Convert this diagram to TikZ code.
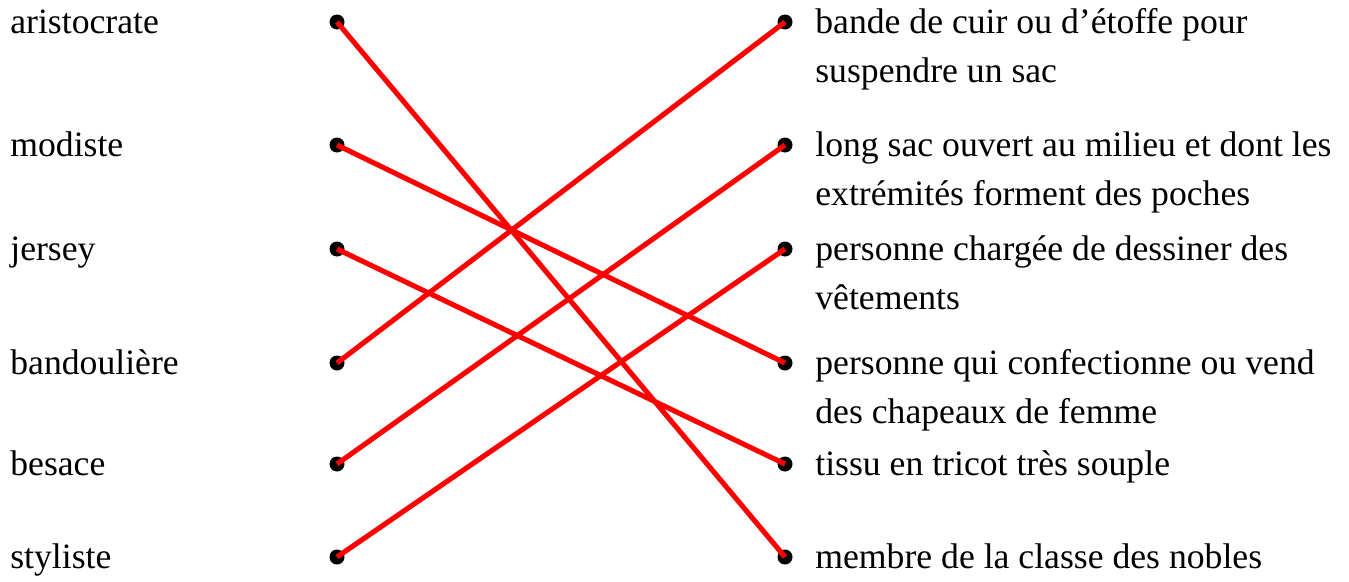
\documentclass[tikz,border=0pt]{standalone}
\usepackage{fontspec}
\setmainfont{Liberation Serif}
\usepackage{xcolor}
\usepackage{tikz}
\usetikzlibrary{positioning}
\definecolor{matchred}{RGB}{255,0,0}
\tikzset{
    dotnode/.style={
        circle,
        fill=black,
        inner sep=0pt,
        minimum size=0.3cm
    },
    wordlabel/.style={
        anchor=base west,
        inner sep=0pt,
        align=left,
        font=\fontsize{20.3}{28.4}\selectfont
    },
    twolines/.style={
        wordlabel,
        yshift=-28.4pt
    },
    matchline/.style={
        draw=matchred,
        line width=2.9pt
    }
}
\begin{document}
\begin{tikzpicture}

\useasboundingbox (0,0) rectangle (26.98,11.62);

% Left column: words
\foreach \i/\y/\word in {1/11.18/aristocrate, 2/8.72/modiste, 3/6.64/jersey,
                         4/4.36/bandoulière, 5/2.34/besace, 6/0.48/styliste} {
    \node[dotnode] (l\i) at (6.74,\y) {};
    \node[wordlabel] (w\i) at (0.2,\y-0.22) {\word};
}

% Right column: definitions
\foreach \i/\y in {1/11.18, 2/8.72, 3/6.64, 4/4.36, 5/2.34, 6/0.48} {
    \node[dotnode] (r\i) at (15.7,\y) {};
}
\node[twolines] (d1) at (16.3,11.18-0.22) {bande de cuir ou d’étoffe pour\\suspendre un sac};
\node[twolines] (d2) at (16.3,8.72-0.22) {long sac ouvert au milieu et dont les\\extrémités forment des poches};
\node[twolines] (d3) at (16.3,6.64-0.22) {personne chargée de dessiner des\\vêtements};
\node[twolines] (d4) at (16.3,4.36-0.22) {personne qui confectionne ou vend\\des chapeaux de femme};
\node[wordlabel] (d5) at (16.3,2.34-0.22) {tissu en tricot très souple};
\node[wordlabel] (d6) at (16.3,0.48-0.22) {membre de la classe des nobles};

% Matches
\draw[matchline] (l1.center) -- (r6.center);
\draw[matchline] (l2.center) -- (r4.center);
\draw[matchline] (l3.center) -- (r5.center);
\draw[matchline] (l4.center) -- (r1.center);
\draw[matchline] (l5.center) -- (r2.center);
\draw[matchline] (l6.center) -- (r3.center);

\end{tikzpicture}
\end{document}
